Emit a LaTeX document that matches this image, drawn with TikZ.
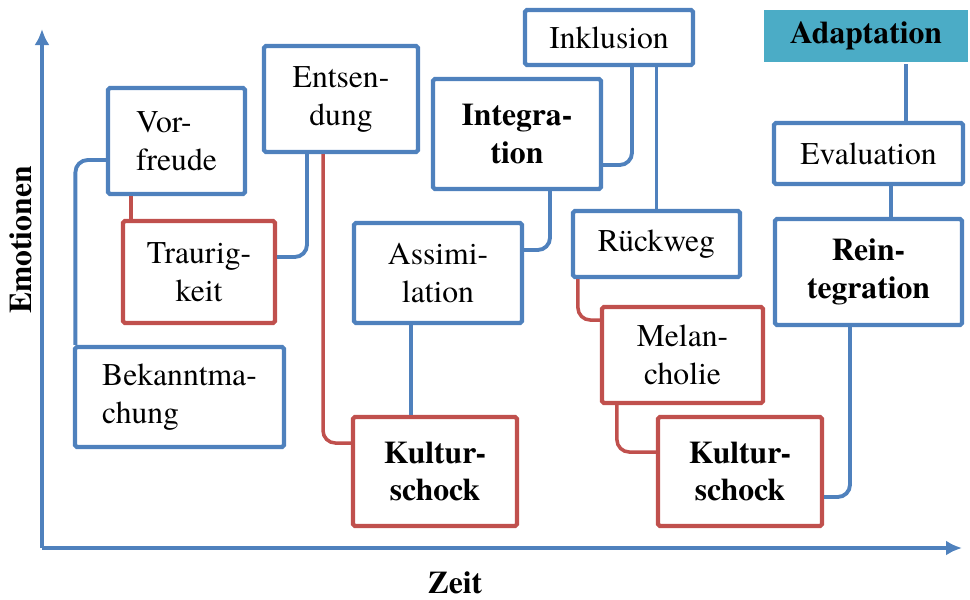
\documentclass[tikz,border=0pt]{standalone}
\usepackage{fontspec}
\newfontfamily\serifschrift{TeX Gyre Termes}
\usepackage{tikz}
\usetikzlibrary{arrows.meta}
\definecolor{blau}{HTML}{4F81BD}
\definecolor{rot}{HTML}{C0504D}
\definecolor{tuerkis}{HTML}{4BACC6}
\tikzset{>={Latex[length=0.32cm,width=0.3cm]}}
\tikzset{
  kasten/.style={draw=blau, line width=2.4pt, rounded corners=1pt, inner sep=0pt,
    align=center, font=\serifschrift\fontsize{18}{21.6}\selectfont},
  rotkasten/.style={kasten, draw=rot},
  linieblau/.style={draw=blau, line width=2.2pt, rounded corners=7pt},
  linierot/.style={draw=rot, line width=2pt, rounded corners=7pt},
  achse/.style={draw=blau, line width=2pt, ->},
  titel/.style={inner sep=0pt, font=\serifschrift\bfseries\fontsize{18}{21.6}\selectfont}
}

\begin{document}
\begin{tikzpicture}[x=0.02cm,y=-0.02cm]
  \useasboundingbox (0,0) rectangle (970,599);

  \coordinate (ursprung) at (42,548);
  \coordinate (ypfeil) at (42,29);
  \coordinate (xpfeil) at (962,548);
  \draw[achse] (ursprung) -- (ypfeil);
  \draw[achse] (ursprung) -- (xpfeil);
  \node[titel, rotate=90] (emo) at (21,240) {Emotionen};
  \node[titel] (zeit) at (455,583) {Zeit};

  \node[kasten, align=left, minimum width=2.74cm, minimum height=2.12cm] (vorf) at (176.5,141) {Vor-\\freude};
  \node[rotkasten, minimum width=3.04cm, minimum height=2.04cm] (traur) at (199,272) {Traurig-\\keit};
  \node[kasten, align=left, minimum width=4.18cm, minimum height=2.0cm] (bekannt) at (179.5,397) {Bekanntma-\\chung};
  \node[kasten, minimum width=3.08cm, minimum height=2.12cm] (entsend) at (341,99) {Entsen-\\dung};
  \node[kasten, minimum width=3.36cm, minimum height=2.2cm] (integr) at (517,134) {\textbf{Integra-}\\\textbf{tion}};
  \node[kasten, minimum width=3.36cm, minimum height=1.1cm] (inkl) at (609,37.5) {Inklusion};
  \node[kasten, minimum width=3.36cm, minimum height=2.0cm] (assim) at (438,273) {Assimi-\\lation};
  \node[kasten, minimum width=3.34cm, minimum height=1.32cm] (rueck) at (656.5,244) {Rückweg};
  \node[rotkasten, minimum width=3.28cm, minimum height=2.18cm] (schockA) at (435,471.5) {\textbf{Kultur-}\\\textbf{schock}};
  \node[rotkasten, minimum width=3.22cm, minimum height=1.92cm] (melan) at (682.5,355) {Melan-\\cholie};
  \node[rotkasten, minimum width=3.28cm, minimum height=2.18cm] (schockB) at (740,471.5) {\textbf{Kultur-}\\\textbf{schock}};
  \node[kasten, draw=none, fill=tuerkis, rounded corners=0pt, minimum width=4.1cm, minimum height=1.04cm] (adapt) at (866,36) {\textbf{Adaptation}};
  \node[kasten, minimum width=3.78cm, minimum height=1.22cm] (evalu) at (868.5,153.5) {Evaluation};
  \node[kasten, minimum width=3.74cm, minimum height=2.12cm] (reint) at (868.5,272) {\textbf{Rein-}\\\textbf{tegration}};

  \draw[linieblau] ([yshift=-0.38cm]vorf.west) -| ([xshift=0.05cm]bekannt.north west);
  \draw[linierot] ([xshift=0.2cm]traur.north west) -- ([xshift=0.2cm]traur.north west |- vorf.south);
  \draw[linieblau] ([yshift=0.3cm]traur.east) -| ([xshift=-0.68cm]entsend.south);
  \draw[linierot] ([xshift=-0.36cm]entsend.south) |- ([yshift=0.57cm]schockA.west);
  \draw[linieblau] ([xshift=-0.54cm]assim.south) -- ([xshift=-0.54cm]assim.south |- schockA.north);
  \draw[linieblau] ([yshift=0.46cm]assim.east) -| ([xshift=0.66cm]integr.south);
  \draw[linieblau] ([yshift=-0.62cm]integr.east) -| ([xshift=0.46cm]inkl.south);
  \draw[linieblau] (rueck.north |- inkl.south) -- (rueck.north);
  \draw[linierot] ([xshift=0.14cm]rueck.south west) |- ([yshift=0.7cm]melan.west);
  \draw[linierot] ([xshift=0.34cm]melan.south west) |- ([yshift=0.39cm]schockB.west);
  \draw[linieblau] ([yshift=-0.51cm]schockB.east) -| ([xshift=-0.37cm]reint.south);
  \draw[linieblau] ([xshift=0.45cm]reint.north) -- ([xshift=0.45cm]reint.north |- evalu.south);
  \draw[linieblau] ([xshift=0.75cm]evalu.north) -- ([xshift=0.75cm]evalu.north |- adapt.south);
\end{tikzpicture}
\end{document}
